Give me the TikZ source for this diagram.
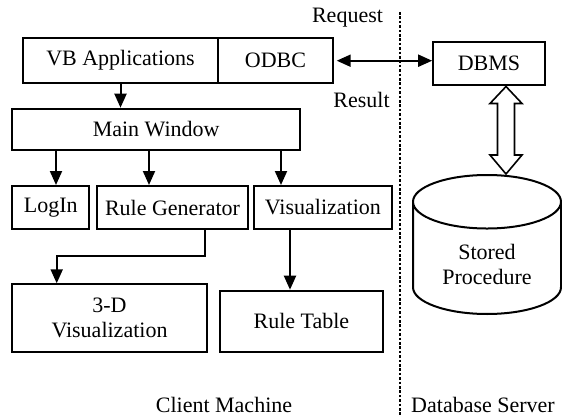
\documentclass[tikz,border=0pt]{standalone}
\usepackage{fontspec}
\setmainfont{Liberation Serif}
\usetikzlibrary{positioning,calc,shapes.geometric,arrows.meta}

\begin{document}
\begin{tikzpicture}[x=1pt,y=-1pt,
    line width=2pt,
    font=\fontsize{22}{25}\selectfont,
    modbox/.style={draw,rectangle,inner sep=0pt,align=center},
    arr/.style={-{Triangle[length=14pt,width=12pt]}},
    dbarr/.style={{Triangle[length=14pt,width=12pt]}-{Triangle[length=14pt,width=12pt]}},
    divider/.style={line width=2.8pt,dash pattern=on 2.6pt off 1.8pt},
    hollow/.style={line width=1.6pt,fill=white,line join=miter}
  ]
  \useasboundingbox (0,0) rectangle (562,417);

  % the modules of the client
  \node[modbox,minimum width=195.6pt,minimum height=44.7pt] (vb) at (120.5,60.7) {VB Applications};
  \node[modbox,minimum width=114.4pt,minimum height=44.7pt] (odbc) at (275.5,60.7) {ODBC};
  \node[modbox,minimum width=287.7pt,minimum height=41pt] (mw) at (156.2,129.2) {Main Window};
  \node[modbox,minimum width=77pt,minimum height=43pt] (login) at (50.8,207.5) {LogIn};
  \node[modbox,minimum width=151.6pt,minimum height=43pt] (rg) at (172.5,207.5) {Rule Generator};
  \node[modbox,minimum width=137.7pt,minimum height=43pt] (vis) at (322.9,207.5) {Visualization};
  \node[modbox,minimum width=194.4pt,minimum height=67.4pt] (v3d) at (109.5,318) {3-D\\Visualization};
  \node[modbox,minimum width=162.7pt,minimum height=61pt] (rt) at (301.4,321.2) {Rule Table};

  % the server
  \node[modbox,minimum width=111.7pt,minimum height=43.8pt] (dbms) at (489,63.6) {DBMS};
  \node[draw,cylinder,shape border rotate=90,aspect=0.6,minimum width=148pt,minimum height=139pt,
        align=center,inner sep=0pt,anchor=shape center] (sp) at (487,244.5)
        {\rule{0pt}{28pt}Stored\\Procedure};

  % the line between the machines
  \coordinate (d1) at (400,12);
  \coordinate (d2) at (400,417);
  \draw[divider] (d1) -- (d2);

  % the labels
  \node[anchor=base] (req) at (347.5,22.7) {Request};
  \node[anchor=base] (res) at (361.5,108) {Result};
  \node[anchor=base] (cm) at (224,412) {Client Machine};
  \node[anchor=base] (ds) at (483,412) {Database Server};

  % the arrows
  \draw[arr] (vb.south) -- (vb.south |- mw.north);
  \coordinate (a1) at ([xshift=5.2pt]login.north);
  \coordinate (a2) at ([xshift=-23.5pt]rg.north);
  \coordinate (a3) at ([xshift=-41.9pt]vis.north);
  \draw[arr] (mw.south -| a1) -- (a1);
  \draw[arr] (mw.south -| a2) -- (a2);
  \draw[arr] (mw.south -| a3) -- (a3);
  \coordinate (b1) at ([xshift=32.5pt]rg.south);
  \coordinate (b2) at ([xshift=-52.8pt]v3d.north);
  \draw[arr] (b1) -- ++(0,26) -| (b2);
  \coordinate (c1) at ([xshift=-32.9pt]vis.south);
  \draw[arr] (c1) -- (c1 |- rt.north);
  \draw[dbarr,shorten <=3pt] (odbc.east) -- (odbc.east -| dbms.west);

  % the hollow arrow
  \coordinate (h1) at ([xshift=17pt]dbms.south);
  \coordinate (h2) at (h1 |- sp.north);
  \draw[hollow] (h1) -- ++(16,17) -- ++(-7.5,0) -- ($(h2)+(8.5,-19)$) -- ++(7.5,0) -- (h2)
    -- ++(-16,-19) -- ++(7.5,0) -- ($(h1)+(-8.5,17)$) -- ++(-7.5,0) -- cycle;
\end{tikzpicture}
\end{document}
